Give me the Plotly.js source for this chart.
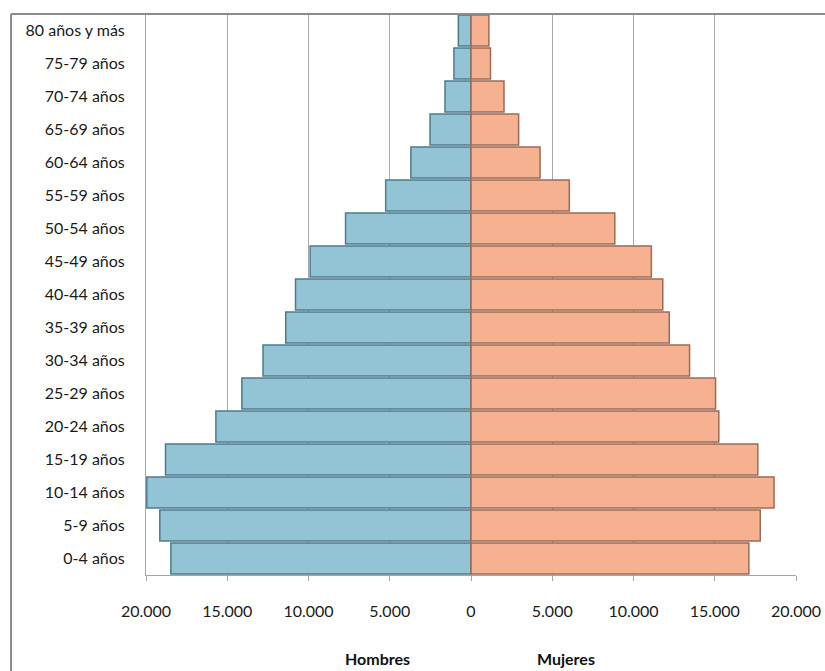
<!DOCTYPE html>
<html>
<head>
<meta charset="utf-8">
<script src="https://cdn.plot.ly/plotly-3.0.1.min.js"></script>
<style>html,body{margin:0;padding:0;background:#fff;}#chart{width:825px;height:671px;}</style>
</head>
<body>
<div id="chart"></div>
<script>
const ageGroups = ["0-4 años","5-9 años","10-14 años","15-19 años","20-24 años","25-29 años","30-34 años","35-39 años","40-44 años","45-49 años","50-54 años","55-59 años","60-64 años","65-69 años","70-74 años","75-79 años","80 años y más"];
const hombres = [18470,19150,19950,18800,15700,14100,12800,11400,10800,9900,7720,5250,3700,2520,1600,1050,780];
const mujeres = [17100,17800,18650,17650,15250,15050,13450,12200,11800,11100,8850,6050,4250,2930,2030,1200,1100];
const tickVals = [-20000,-15000,-10000,-5000,0,5000,10000,15000,20000];
const tickText = ["20.000","15.000","10.000","5.000","0","5.000","10.000","15.000","20.000"];
const seriesNames = ["Hombres","Mujeres"];

const font = "Lato, 'Open Sans', sans-serif";
const data = [
  {type:"bar", orientation:"h", name:seriesNames[0], y:ageGroups, x:hombres.map(v=>-v),
   marker:{color:"#92c4d6", line:{color:"#4d7b8d", width:1.5}}, hoverinfo:"y+text", text:hombres.map(String), textposition:"none"},
  {type:"bar", orientation:"h", name:seriesNames[1], y:ageGroups, x:mujeres,
   marker:{color:"#f6b290", line:{color:"#9c6b55", width:1.5}}, hoverinfo:"y+x", textposition:"none"}
];
const layout = {
  width:825, height:671,
  margin:{l:146, r:29, t:14, b:96},
  paper_bgcolor:"#fff", plot_bgcolor:"#fff",
  barmode:"relative", bargap:0.06,
  showlegend:false,
  font:{family:font, size:16, color:"#1a1a1a"},
  xaxis:{range:[-20000,20000], tickvals:tickVals, ticktext:tickText, showgrid:true, gridcolor:"#aaaaaa", gridwidth:1,
         zeroline:false, showline:true, linecolor:"#a6a6a6", linewidth:1, ticks:"outside", ticklen:5, tickcolor:"#a6a6a6",
         ticklabelstandoff:17, tickfont:{family:font, size:16, color:"#1a1a1a"}, fixedrange:true},
  yaxis:{type:"category", showgrid:false, zeroline:false, showline:true, linecolor:"#a6a6a6", linewidth:1, ticks:"",
         ticklabelstandoff:17, tickfont:{family:font, size:16, color:"#1a1a1a"}, fixedrange:true},
  annotations:[
    {text:"<b>"+seriesNames[0]+"</b>", xref:"x", yref:"paper", x:-5730, y:-0.148, yanchor:"middle", showarrow:false, font:{family:font, size:16, color:"#111"}},
    {text:"<b>"+seriesNames[1]+"</b>", xref:"x", yref:"paper", x:5850, y:-0.148, yanchor:"middle", showarrow:false, font:{family:font, size:16, color:"#111"}}
  ],
  shapes:[
    {type:"line", xref:"paper", yref:"paper", x0:-0.2077, x1:1.1, y0:1, y1:1, line:{color:"#8c8c8c", width:2}},
    {type:"line", xref:"paper", yref:"paper", x0:-0.2077, x1:-0.2077, y0:1, y1:-0.2, line:{color:"#8c8c8c", width:2}}
  ]
};
Plotly.newPlot("chart", data, layout, {displayModeBar:false, staticPlot:true});
</script>
</body>
</html>
